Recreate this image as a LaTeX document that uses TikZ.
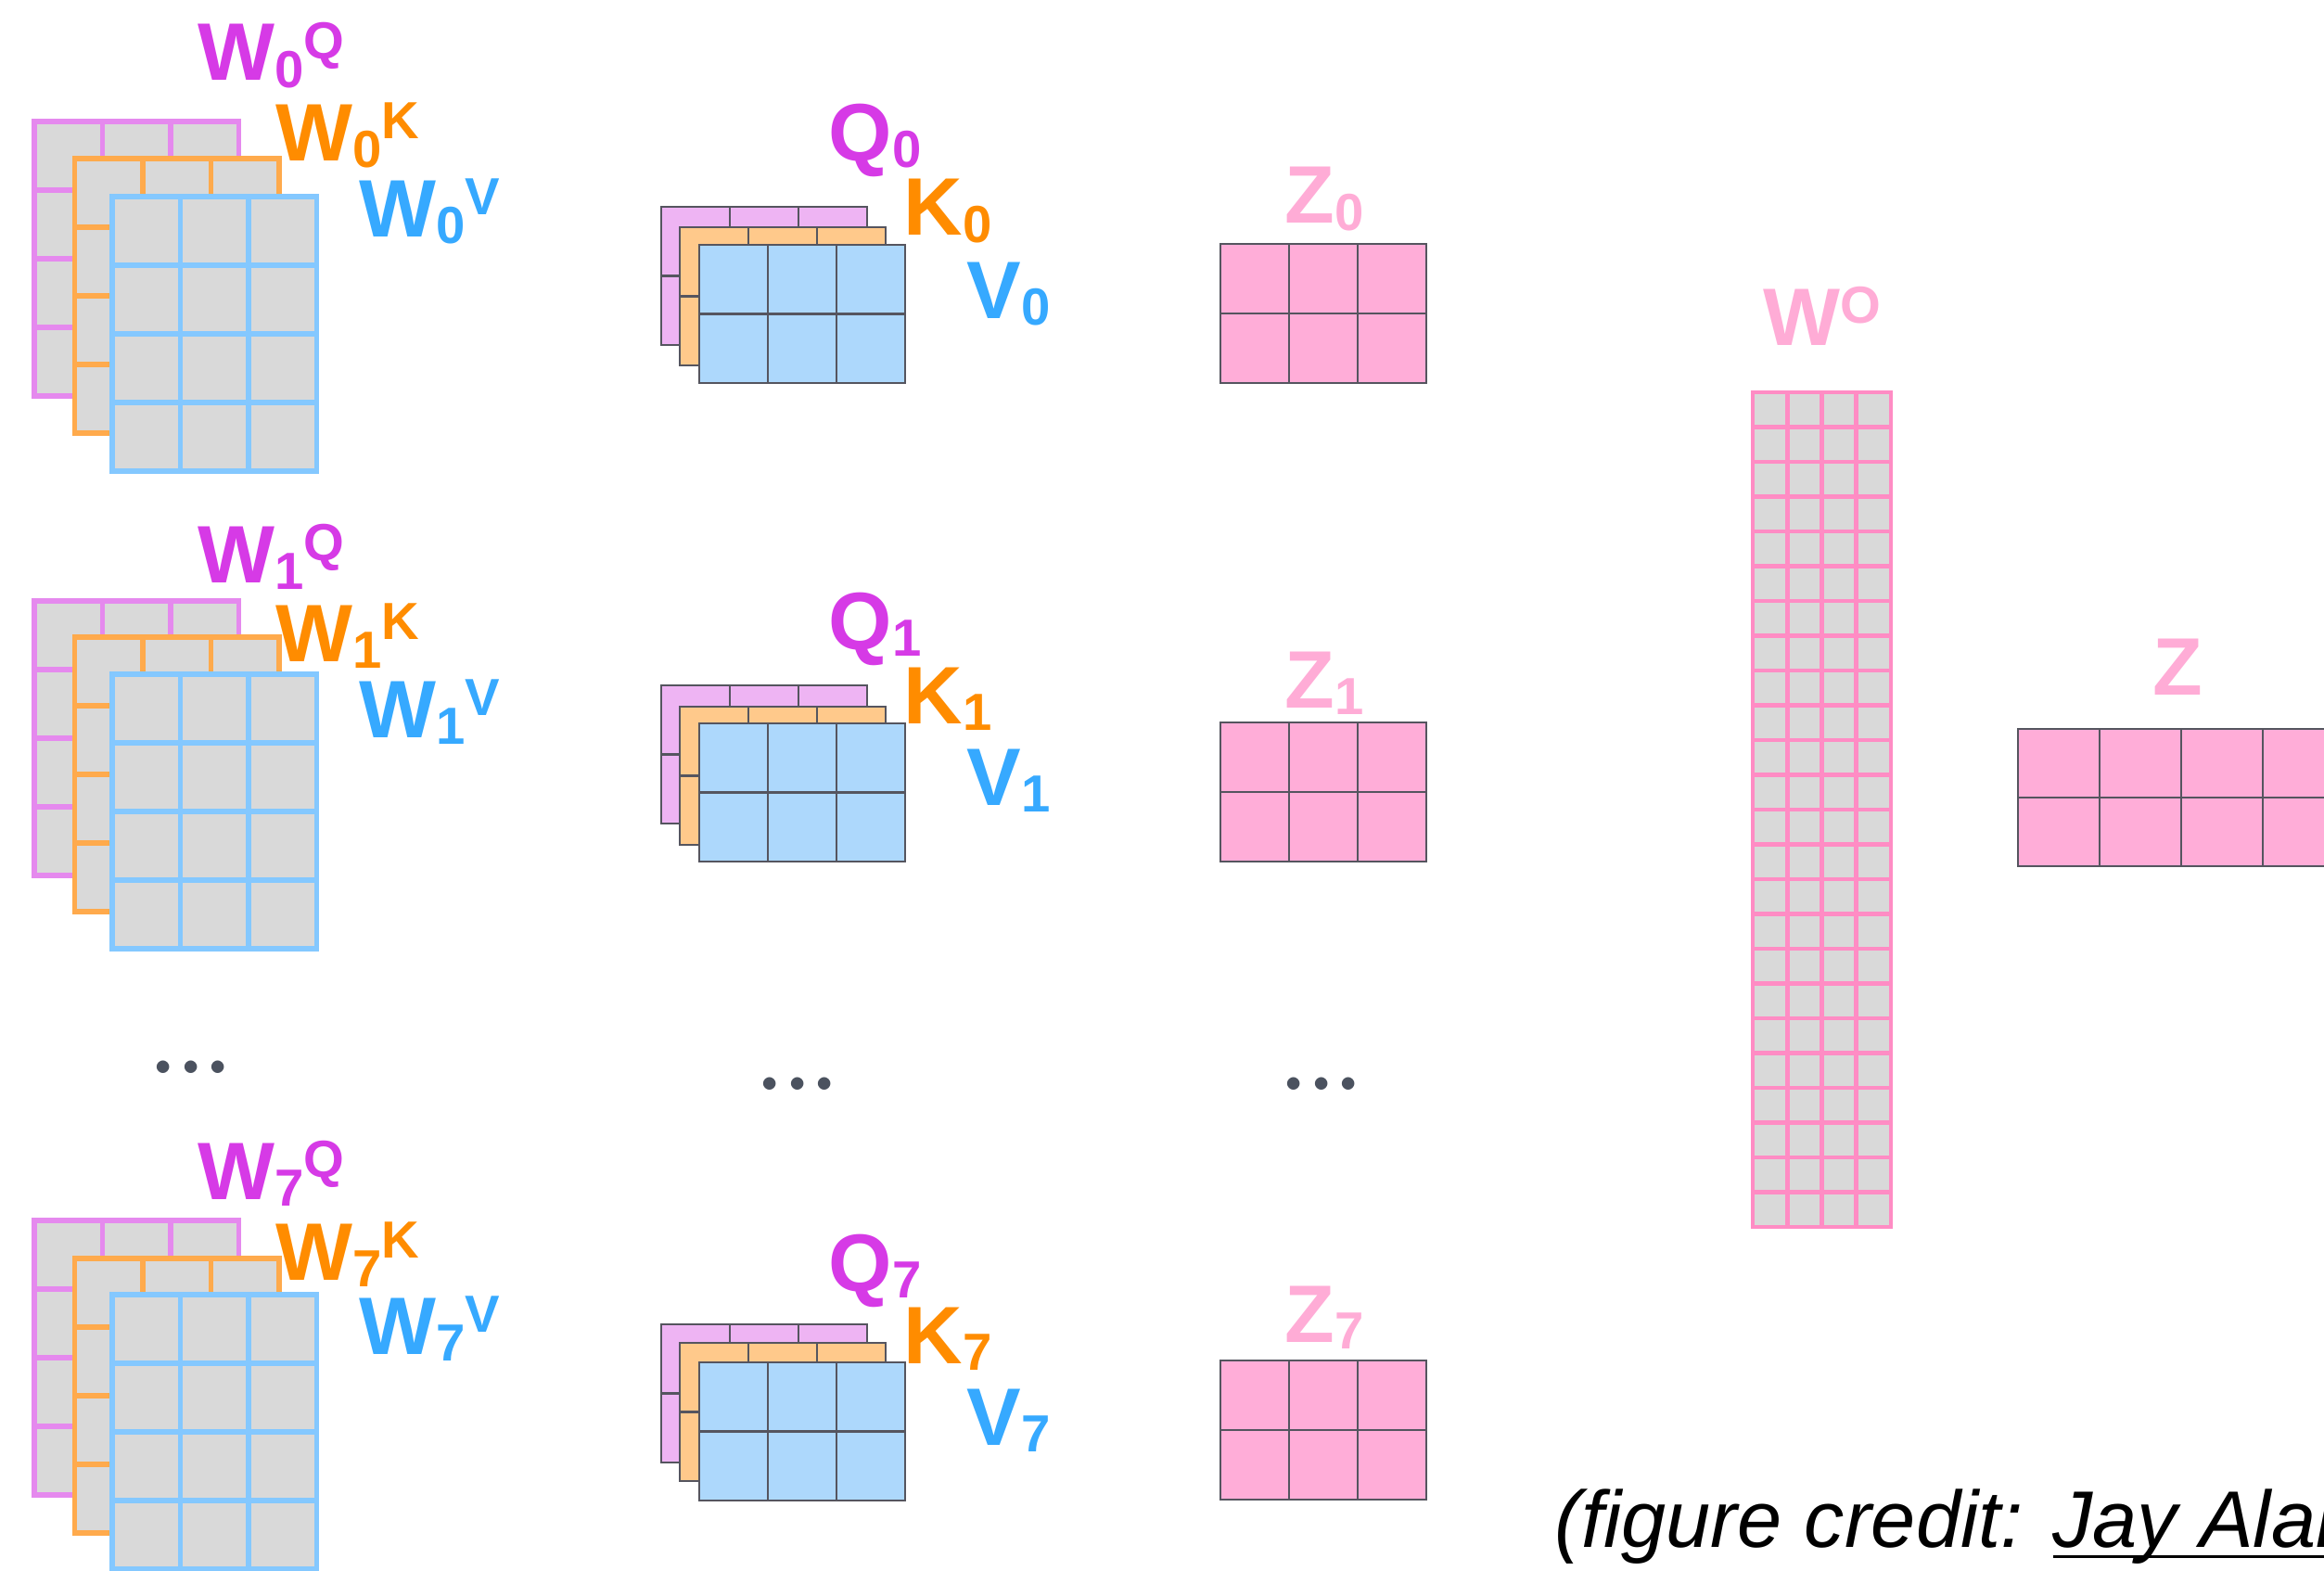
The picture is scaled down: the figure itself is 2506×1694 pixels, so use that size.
\documentclass[tikz,border=0pt]{standalone}
\usepackage{fontspec}
\setmainfont{Liberation Sans}
\newfontfamily\dotfont{Latin Modern Roman}

\definecolor{qmag}{RGB}{214,58,230}
\definecolor{korg}{RGB}{255,140,0}
\definecolor{vblu}{RGB}{54,169,255}
\definecolor{zpink}{RGB}{255,172,214}
\definecolor{qfill}{RGB}{238,180,243}
\definecolor{kfill}{RGB}{255,201,139}
\definecolor{vfill}{RGB}{173,216,252}
\definecolor{zfill}{RGB}{255,173,216}
\definecolor{wfill}{RGB}{217,217,217}
\definecolor{wqline}{RGB}{229,137,238}
\definecolor{wkline}{RGB}{255,170,76}
\definecolor{wvline}{RGB}{132,200,255}
\definecolor{woline}{RGB}{255,140,196}
\definecolor{cellline}{RGB}{85,85,95}
\definecolor{dotgray}{RGB}{75,82,95}

\newcommand{\cellmat}[7]{%
  \foreach \ci in {1,...,#3}{%
    \foreach \rj in {1,...,#4}{%
      \draw[#7] ({#1+(\ci-1)*#5},{#2+(\rj-1)*#6}) rectangle ++(#5,#6);
    }%
  }%
}
\newcommand{\subsup}[3]{#1\raisebox{-2pt}{\fontsize{16}{18}\selectfont #2}\raisebox{6.8pt}{\fontsize{16}{18}\selectfont #3}}
\newcommand{\credline}[1]{\setbox0\hbox{#1}\rlap{\rule[-3.3pt]{\wd0}{0.85pt}}\box0}

\begin{document}
\begin{tikzpicture}[x=0.01cm, y=-0.01cm,
    wq/.style={draw=wqline, fill=wfill, line width=1.7pt},
    wk/.style={draw=wkline, fill=wfill, line width=1.7pt},
    wv/.style={draw=wvline, fill=wfill, line width=1.7pt},
    qm/.style={draw=cellline, fill=qfill, line width=0.7pt},
    km/.style={draw=cellline, fill=kfill, line width=0.7pt},
    vm/.style={draw=cellline, fill=vfill, line width=0.7pt},
    zm/.style={draw=cellline, fill=zfill, line width=0.7pt},
    wom/.style={draw=woline, fill=wfill, line width=1.3pt},
    lbl/.style={anchor=base west, inner sep=0pt, font=\bfseries\fontsize{25}{30}\selectfont},
    ellip/.style={inner sep=0pt, text=dotgray, font=\dotfont\bfseries\fontsize{26.7}{32}\selectfont}
]
\useasboundingbox (0,0) rectangle (2506,1694);
\clip (0,0) rectangle (2506,1694);

\cellmat{37}{131}{3}{4}{73.5}{74}{wq}
\cellmat{80.5}{171}{3}{4}{73.5}{74}{wk}
\cellmat{121}{212}{3}{4}{73.5}{74}{wv}
\cellmat{37}{648}{3}{4}{73.5}{74}{wq}
\cellmat{80.5}{687}{3}{4}{73.5}{74}{wk}
\cellmat{121}{727}{3}{4}{73.5}{74}{wv}
\cellmat{37}{1316}{3}{4}{73.5}{74}{wq}
\cellmat{80.5}{1357}{3}{4}{73.5}{74}{wk}
\cellmat{121}{1396}{3}{4}{73.5}{74}{wv}

\node[lbl, text=qmag] (wq0) at (213,87) {\subsup{W}{0}{Q}};
\node[lbl, text=korg] (wk0) at (297,173) {\subsup{W}{0}{K}};
\node[lbl, text=vblu] (wv0) at (387,255) {\subsup{W}{0}{V}};
\node[lbl, text=qmag] (wq1) at (213,628) {\subsup{W}{1}{Q}};
\node[lbl, text=korg] (wk1) at (297,713) {\subsup{W}{1}{K}};
\node[lbl, text=vblu] (wv1) at (387,795) {\subsup{W}{1}{V}};
\node[lbl, text=qmag] (wq7) at (213,1293) {\subsup{W}{7}{Q}};
\node[lbl, text=korg] (wk7) at (297,1380) {\subsup{W}{7}{K}};
\node[lbl, text=vblu] (wv7) at (387,1460) {\subsup{W}{7}{V}};

\cellmat{713}{223}{3}{2}{74}{74.5}{qm}
\cellmat{733}{245}{3}{2}{74}{74.5}{km}
\cellmat{754}{264}{3}{2}{74}{74.5}{vm}
\cellmat{713}{739}{3}{2}{74}{74.5}{qm}
\cellmat{733}{762}{3}{2}{74}{74.5}{km}
\cellmat{754}{780}{3}{2}{74}{74.5}{vm}
\cellmat{713}{1428}{3}{2}{74}{74.5}{qm}
\cellmat{733}{1448}{3}{2}{74}{74.5}{km}
\cellmat{754}{1469}{3}{2}{74}{74.5}{vm}

\node[lbl, text=qmag] (q0) at (893,173) {\subsup{Q}{0}{}};
\node[lbl, text=korg] (k0) at (974,254) {\subsup{K}{0}{}};
\node[lbl, text=vblu] (v0) at (1042,343) {\subsup{V}{0}{}};
\node[lbl, text=qmag] (q1) at (893,700) {\subsup{Q}{1}{}};
\node[lbl, text=korg] (k1) at (974,780) {\subsup{K}{1}{}};
\node[lbl, text=vblu] (v1) at (1042,868) {\subsup{V}{1}{}};
\node[lbl, text=qmag] (q7) at (893,1392) {\subsup{Q}{7}{}};
\node[lbl, text=korg] (k7) at (974,1470) {\subsup{K}{7}{}};
\node[lbl, text=vblu] (v7) at (1042,1558) {\subsup{V}{7}{}};

\cellmat{1316}{263}{3}{2}{74}{75}{zm}
\cellmat{1316}{779}{3}{2}{74}{75}{zm}
\cellmat{1316}{1467}{3}{2}{74}{75}{zm}
\node[lbl, text=zpink] (z0) at (1385,241) {\subsup{Z}{0}{}};
\node[lbl, text=zpink] (z1) at (1385,763) {\subsup{Z}{1}{}};
\node[lbl, text=zpink] (z7) at (1385,1447) {\subsup{Z}{7}{}};

\node[ellip] (dotw) at (206,1151) {...};
\node[ellip] (dotq) at (860,1169) {...};
\node[ellip] (dotz) at (1425,1169) {...};

\cellmat{1890}{423}{4}{24}{37.25}{37.5}{wom}
\node[lbl, text=zpink] (wo) at (1901,372) {\subsup{W}{}{O}};

\cellmat{2176}{786}{4}{2}{88}{74}{zm}
\node[lbl, text=zpink] (zout) at (2321,749) {Z};

\node[anchor=base west, inner sep=0pt, font=\itshape\fontsize{24.6}{30}\selectfont] (credit) at (1676,1668) {(figure credit: \credline{Jay Alammar})};
\end{tikzpicture}
\end{document}
